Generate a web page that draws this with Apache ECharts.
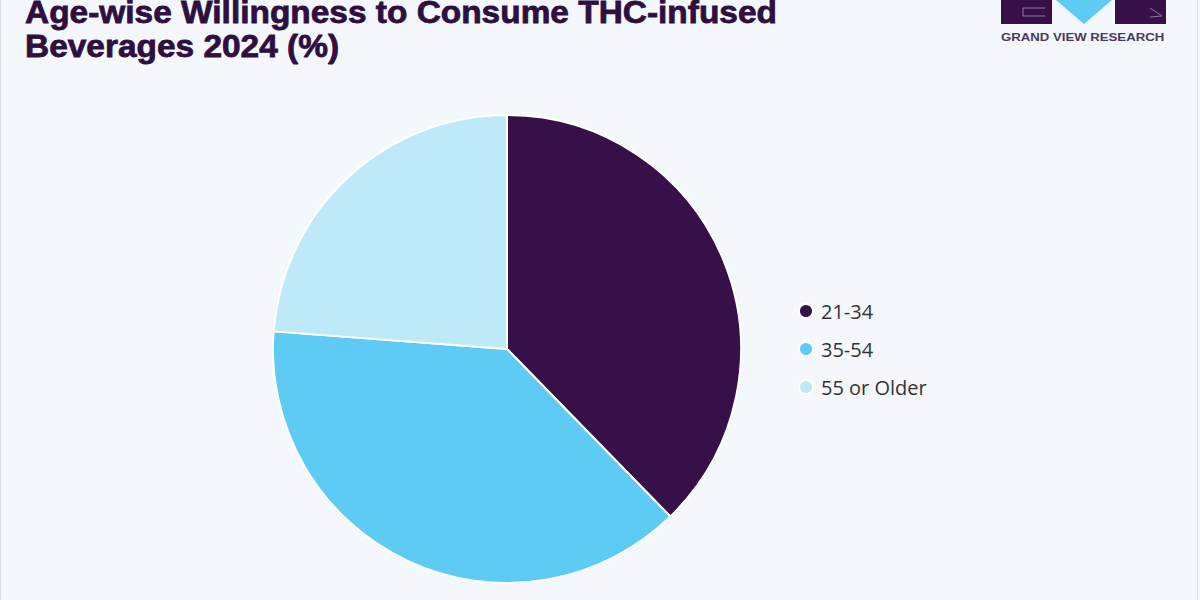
<!DOCTYPE html>
<html>
<head>
<meta charset="utf-8">
<script src="https://cdn.jsdelivr.net/npm/echarts@6/dist/echarts.min.js"></script>
<style>
  html, body { margin: 0; padding: 0; background: #f4f8fc; }
  #main { width: 1200px; height: 600px; }
</style>
</head>
<body>
<div id="main"></div>
<script>
var ageGroups = ['21-34', '35-54', '55 or Older'];
var shares = [37.7, 38.5, 23.8];
var sliceColors = ['#37104a', '#5ecbf5', '#bde9f9'];
var titleLines = ['Age-wise Willingness to Consume THC-infused', 'Beverages 2024 (%)'];

var chart = echarts.init(document.getElementById('main'), null, { renderer: 'svg' });

// heavy condensed-looking title: bold + same-colour stroke
var titleStyle = {
  fontFamily: 'Liberation Sans',
  fontWeight: 'bold',
  fontSize: 32,
  fill: '#2e0f40',
  stroke: '#2e0f40',
  lineWidth: 0.8
};

var option = {
  backgroundColor: '#f4f8fc',
  legend: {
    orient: 'vertical',
    left: 793,
    top: 296,
    icon: 'circle',
    itemWidth: 14,
    itemHeight: 14,
    itemGap: 18,
    data: ageGroups,
    textStyle: { fontFamily: 'Open Sans', fontSize: 20, color: '#333', padding: [0, 0, 0, 3] }
  },
  graphic: [
    { type: 'rect', shape: { x: 0, y: 0, width: 1, height: 600 }, style: { fill: '#d8dde2' } },
    { type: 'rect', shape: { x: 1197, y: 0, width: 1, height: 600 }, style: { fill: '#d8dde2' } },
    { type: 'text', x: 25, y: -4, scaleX: 1.045, style: Object.assign({ text: titleLines[0] }, titleStyle) },
    { type: 'text', x: 25, y: 30, scaleX: 1.045, style: Object.assign({ text: titleLines[1] }, titleStyle) },
    { type: 'rect', shape: { x: 1001, y: 0, width: 51, height: 24 }, style: { fill: '#37104a' } },
    { type: 'rect', shape: { x: 1115, y: 0, width: 51, height: 24 }, style: { fill: '#37104a' } },
    { type: 'polygon', shape: { points: [[1056, 0], [1112, 0], [1084, 24]] }, style: { fill: '#5ecbf5' } },
    { type: 'polyline', shape: { points: [[1045, 8], [1023, 8], [1023, 16], [1045, 16]] }, style: { stroke: '#8a7a9a', lineWidth: 1, fill: null } },
    { type: 'polyline', shape: { points: [[1150, 8], [1162, 16], [1150, 17]] }, style: { stroke: '#8a7a9a', lineWidth: 1, fill: null } },
    {
      type: 'text', x: 1001, y: 32, scaleX: 1.2,
      style: { text: 'GRAND VIEW RESEARCH', fontFamily: 'Liberation Sans', fontWeight: 'bold', fontSize: 11, fill: '#4a3a5c' }
    }
  ],
  series: [{
    type: 'pie',
    center: [507, 349],
    radius: 234,
    startAngle: 90,
    clockwise: true,
    label: { show: false },
    labelLine: { show: false },
    itemStyle: { borderColor: '#ffffff', borderWidth: 2 },
    emphasis: { disabled: true },
    data: ageGroups.map(function (name, i) {
      return { name: name, value: shares[i], itemStyle: { color: sliceColors[i] } };
    })
  }]
};

chart.setOption(option);
</script>
</body>
</html>
